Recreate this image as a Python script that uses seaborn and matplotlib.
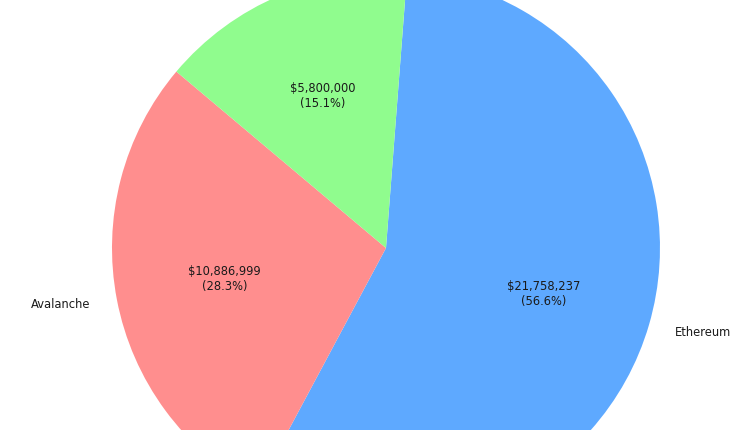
import matplotlib
matplotlib.use('Agg')
import matplotlib.pyplot as plt
import seaborn as sns

chains = ['Ethereum', 'Avalanche', 'Other']
amounts = [21758237, 10886999, 5800000]
colors = ['#5ea9ff', '#ff8e8e', '#90fc8e']

sns.set_style('white')

vals = iter(amounts)


def fmt(pct):
    return f"${next(vals):,.0f}\n({pct:.1f}%)"


fig = plt.figure(figsize=(7.5, 4.3), dpi=100)
# pie is bigger than the canvas in the reference, so place the axes by hand
ax = fig.add_axes([0.058, -0.3733, 0.9133, 1.593])
wedges, texts, autotexts = ax.pie(amounts, labels=chains, colors=colors, autopct=fmt,
                                  startangle=85.6, counterclock=False,
                                  wedgeprops={'linewidth': 0, 'edgecolor': 'none'},
                                  textprops={'fontsize': 8.3, 'color': '#1a1a1a'})
# the third outer label falls above the canvas in the reference
texts[2].set_visible(False)
ax.set_aspect('equal')

fig.savefig('out.png', dpi=100)
